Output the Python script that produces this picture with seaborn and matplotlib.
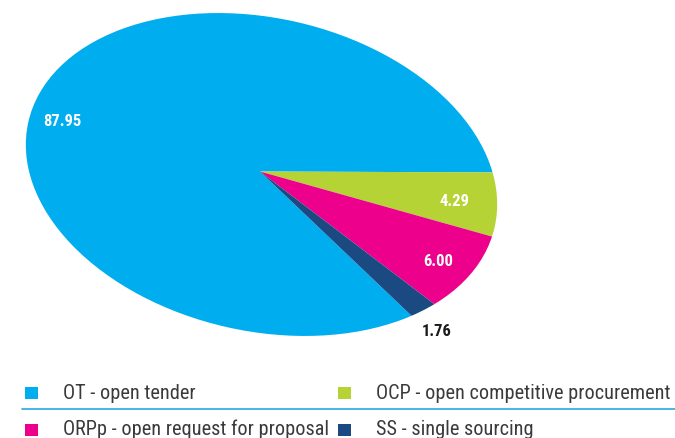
import matplotlib
matplotlib.use("Agg")
import matplotlib.pyplot as plt
from matplotlib.patches import Ellipse, Rectangle
from matplotlib.lines import Line2D
import seaborn as sns

# Procurement method shares (%)
methods = ["OT", "OCP", "ORPp", "SS"]
shares = [87.95, 4.29, 6.00, 1.76]
legend_labels = [
    "OT - open tender",
    "OCP - open competitive procurement",
    "ORPp - open request for proposal",
    "SS - single sourcing",
]
colors = ["#00AEEF", "#B5D334", "#EC008C", "#1B4A82"]

sns.set_theme(style="white")
plt.rcParams["font.family"] = ["Roboto Condensed", "DejaVu Sans"]

W, H = 675, 439
fig = plt.figure(figsize=(W / 100, H / 100), dpi=100)
fig.patch.set_facecolor("white")
ax = fig.add_axes([0, 0, 1, 1])

# pixel-like data space, y measured upward
center = (260, H - 172.5)
wedges, _ = ax.pie(
    shares,
    colors=colors,
    startangle=316.4,
    counterclock=False,
    radius=420,
    center=center,
    wedgeprops=dict(linewidth=0),
)
ax.set_xlim(0, W)
ax.set_ylim(0, H)
ax.set_aspect("equal")
ax.axis("off")

# elliptical outline of the pie
outline = Ellipse((261.5, H - 175.5), width=478, height=313, angle=-12.7,
                  transform=ax.transData)
for w in wedges:
    w.set_clip_on(True)
    w.set_clip_path(outline)

# value labels
label_pos = [(62, 121), (454, 202), (438, 262), (437, 332)]
label_colors = ["white", "white", "white", "#1a1a1a"]
for v, (x, y), c in zip(shares, label_pos, label_colors):
    ax.text(x, H - y, f"{v:.2f}", ha="center", va="center", color=c,
            fontsize=12, fontweight="bold")

# legend: two rows, two columns, separator line between rows
markers = [(25, 393.5), (338, 393.5), (25, 430.5), (338, 430.5)]
baselines = [399, 399, 435.5, 435.5]
for idx, ((x, y), yb) in enumerate(zip(markers, baselines)):
    ax.add_patch(Rectangle((x, H - y - 6), 13, 12,
                           facecolor=wedges[idx].get_facecolor(), linewidth=0))
    ax.text(x + 38, H - yb, legend_labels[idx], ha="left", va="baseline",
            color="#3a3a3a", fontsize=14.6)

ax.add_line(Line2D([21.5, W], [H - 409.5, H - 409.5], color="#29A9E0", linewidth=1.2))

fig.savefig("out.png", dpi=100, facecolor="white")
